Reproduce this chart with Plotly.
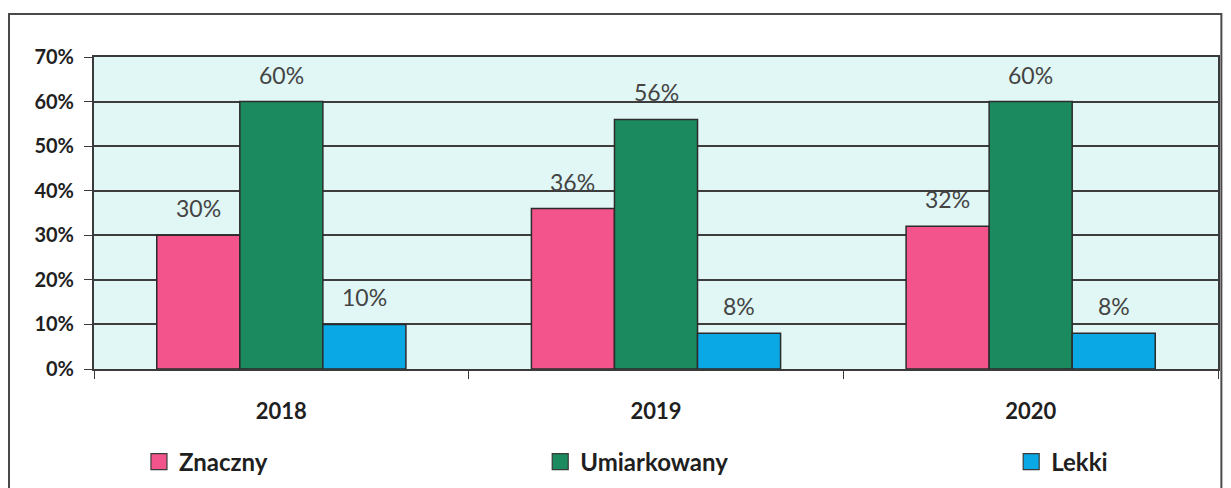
import plotly.graph_objects as go

# ----------------------------------
# DATA
# ----------------------------------

years = ["2018", "2019", "2020"]

znaczny = [30, 36, 32]
umiarkowany = [60, 56, 60]
lekki = [10, 8, 8]

series_names = ["Znaczny", "Umiarkowany", "Lekki"]
series_values = [znaczny, umiarkowany, lekki]
series_colors = ["#f2548b", "#1b8a5f", "#0aa9e6"]

y_ticks = [0, 10, 20, 30, 40, 50, 60, 70]

# ----------------------------------
# LAYOUT CONSTANTS
# ----------------------------------

W, H = 1223, 480          # page body adds 8px on left/top
M_L, M_R, M_T, M_B = 86, 13, 49, 119
BARGAP = 0.335

plot_w = W - M_L - M_R
bar_px = plot_w / len(years) * (1 - BARGAP) / len(series_names)

legend_ids = ["legend", "legend2", "legend3"]
legend_x = [0.040, 0.397, 0.816]

FONT = "Lato, 'Open Sans', sans-serif"

# ----------------------------------
# FIGURE
# ----------------------------------

fig = go.Figure()

for i, (name, vals, color, leg) in enumerate(
        zip(series_names, series_values, series_colors, legend_ids)):

    fig.add_trace(
        go.Bar(
            x=years,
            y=vals,
            name=name,
            marker=dict(color=color, line=dict(color="#2b2b2b", width=1.5)),
            showlegend=False,
        )
    )

    # value labels floating above the bars
    # (category index as x, so "2018" is not read as a position)
    for j, v in enumerate(vals):
        fig.add_annotation(
            x=j,
            y=v,
            text=f"{v}%",
            showarrow=False,
            xshift=(i - 1) * bar_px,
            yshift=27,
            yanchor="middle",
            font=dict(family=FONT, size=23, color="#444444"),
        )

    # legend entry as a square marker
    fig.add_trace(
        go.Scatter(
            x=[None],
            y=[None],
            mode="markers",
            name=name,
            marker=dict(symbol="square", size=18, color=color,
                        line=dict(color="#3a3a3a", width=1.2)),
            legend=leg,
        )
    )

legend_style = dict(
    orientation="h",
    yref="container",
    y=0.054,
    yanchor="middle",
    xanchor="left",
    bgcolor="rgba(0,0,0,0)",
    font=dict(family=FONT, size=24, color="#1f1f1f", weight="bold"),
    itemwidth=30,
)

fig.update_layout(
    width=W,
    height=H,
    margin=dict(l=M_L, r=M_R, t=M_T, b=M_B),
    paper_bgcolor="white",
    plot_bgcolor="#e0f7f5",
    barmode="group",
    bargap=BARGAP,
    bargroupgap=0,
    legend=dict(x=legend_x[0], **legend_style),
    legend2=dict(x=legend_x[1], **legend_style),
    legend3=dict(x=legend_x[2], **legend_style),
    font=dict(family=FONT),
)

fig.update_xaxes(
    type="category",
    categoryorder="array",
    categoryarray=years,
    range=[-0.5, len(years) - 0.5],
    showline=True,
    linecolor="#3a3a3a",
    linewidth=2,
    mirror=True,
    ticks="outside",
    tickson="boundaries",
    ticklen=8,
    tickcolor="#3a3a3a",
    ticklabelstandoff=22,
    tickangle=0,
    tickfont=dict(family=FONT, size=22, color="#1f1f1f", weight="bold"),
    showgrid=False,
    automargin=False,
)

fig.update_yaxes(
    range=[0, 70],
    tickvals=y_ticks,
    ticktext=[f"{t}%" for t in y_ticks],
    showline=True,
    linecolor="#3a3a3a",
    linewidth=2,
    mirror=True,
    ticks="outside",
    ticklen=8,
    tickcolor="#3a3a3a",
    ticklabelstandoff=6,
    tickfont=dict(family=FONT, size=20, color="#1f1f1f", weight="bold"),
    showgrid=True,
    gridcolor="#3d3d3d",
    gridwidth=2,
    zeroline=False,
    automargin=False,
)

# outer chart border
fig.add_shape(
    type="rect",
    xref="paper",
    yref="paper",
    x0=(1 - M_L) / plot_w,
    x1=1.003,
    y0=-0.5,
    y1=1.138,
    line=dict(color="#4a4a4a", width=2),
    fillcolor="rgba(0,0,0,0)",
    layer="below",
)

fig.write_html("out.html")
